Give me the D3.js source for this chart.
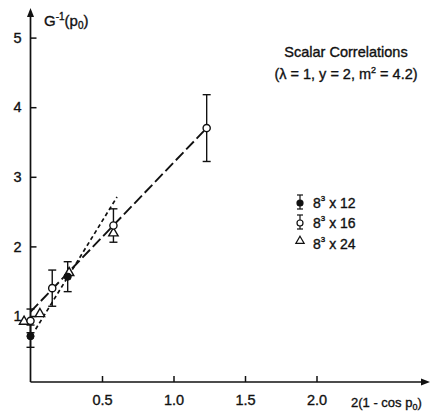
<!DOCTYPE html>
<html><head><meta charset="utf-8">
<script src="https://cdn.jsdelivr.net/npm/d3@7"></script>
<style>
body{margin:0;background:#fff;}
text{font-family:"Liberation Sans",Arial,sans-serif;fill:#111;stroke:#111;stroke-width:0.35px;}
</style></head>
<body><svg id="c" width="434" height="412"></svg>
<script>
// ---- data ----
const xTicks = [0.5, 1.0, 1.5, 2.0];
const xTickLabels = ["0.5", "1.0", "1.5", "2.0"];
const yTicks = [1, 2, 3, 4, 5];
const yTickLabels = ["1", "2", "3", "4", "5"];

// 8^3 x 12 (filled circles)
const s12x = [0.0, 0.26];
const s12y = [0.71, 1.565];
const s12e = [0.16, 0.215];
// 8^3 x 16 (open circles)
const s16x = [0.0, 0.152, 0.58, 1.232];
const s16y = [0.93, 1.40, 2.30, 3.70];
const s16e = [0.17, 0.26, 0.24, 0.48];
// 8^3 x 24 (triangles)
const s24x = [-0.045, 0.066, 0.27, 0.58];
const s24y = [0.92, 1.03, 1.62, 2.19];

// fit lines
const longFitX = [0.0, 1.232];
const longFitY = [1.06, 3.70];
const shortFitX = [0.036, 0.605];
const shortFitY = [0.81, 2.71];

const legendLabels = ["8", "8", "8"];
const legendSuffix = [" x 12", " x 16", " x 24"];

// ---- drawing ----
const svg = d3.select("#c");
const x = d3.scaleLinear().domain([0, 2.0]).range([30.5, 316.5]);
const y = d3.scaleLinear().domain([0, 5]).range([385.6, 37.6]);
const axisY = 382;
const ink = "#111";

// axes
const xa = svg.append("g").attr("transform", `translate(0,${axisY})`)
  .call(d3.axisBottom(x).tickValues(xTicks).tickFormat((d,i)=>xTickLabels[i]).tickSize(-6).tickPadding(13));
const ya = svg.append("g").attr("transform", `translate(${x(0)},0)`)
  .call(d3.axisLeft(y).tickValues(yTicks).tickFormat((d,i)=>yTickLabels[i]).tickSize(-6).tickPadding(9));
[xa, ya].forEach(g => {
  g.select(".domain").remove();
  g.selectAll("line").attr("stroke", ink).attr("stroke-width", 1.5);
  g.selectAll("text").style("font-size", "14.5px").style("font-family", '"Liberation Sans",Arial,sans-serif').attr("fill", ink);
});
// axis lines with arrows
svg.append("line").attr("x1", x(0)).attr("x2", 424).attr("y1", axisY).attr("y2", axisY).attr("stroke", ink).attr("stroke-width", 1.7);
svg.append("path").attr("d", `M430,${axisY} L421,${axisY-3.5} L421,${axisY+3.5} Z`).attr("fill", ink);
svg.append("line").attr("x1", x(0)).attr("x2", x(0)).attr("y1", axisY).attr("y2", 14).attr("stroke", ink).attr("stroke-width", 1.7);
svg.append("path").attr("d", `M${x(0)},8 L${x(0)-3.5},17 L${x(0)+3.5},17 Z`).attr("fill", ink);

// axis titles
const yl = svg.append("text").attr("x", 44).attr("y", 26).style("font-size", "15px");
yl.append("tspan").text("G");
yl.append("tspan").attr("dy", -6).style("font-size", "10px").text("-1");
yl.append("tspan").attr("dy", 6).text("(p");
yl.append("tspan").attr("dy", 3).style("font-size", "10px").text("0");
yl.append("tspan").attr("dy", -3).text(")");

const xl = svg.append("text").attr("x", 351).attr("y", 407).style("font-size", "13px");
xl.append("tspan").text("2(1 - cos p");
xl.append("tspan").attr("dy", 3).style("font-size", "9px").text("0");
xl.append("tspan").attr("dy", -3).text(")");

// title
svg.append("text").attr("x", 346).attr("y", 57).attr("text-anchor", "middle").style("font-size", "14.5px").text("Scalar Correlations");
const t2 = svg.append("text").attr("x", 346).attr("y", 79).attr("text-anchor", "middle").style("font-size", "14.5px");
t2.append("tspan").text("(λ = 1, y = 2, m");
t2.append("tspan").attr("dy", -6).style("font-size", "9px").text("2");
t2.append("tspan").attr("dy", 6).text(" = 4.2)");

// fit lines
const line = d3.line().x(d => x(d[0])).y(d => y(d[1]));
svg.append("path").attr("d", line(longFitX.map((v,i)=>[v, longFitY[i]])))
  .attr("fill", "none").attr("stroke", ink).attr("stroke-width", 1.9).attr("stroke-dasharray", "11,4");
svg.append("path").attr("d", line(shortFitX.map((v,i)=>[v, shortFitY[i]])))
  .attr("fill", "none").attr("stroke", ink).attr("stroke-width", 1.7).attr("stroke-dasharray", "4,3");

// error bars
function errBars(xs, ys, es) {
  xs.forEach((xv, i) => {
    const e = es[i];
    if (!e) return;
    const cx = x(xv), y1 = y(ys[i] + e), y2 = y(ys[i] - e);
    svg.append("line").attr("x1", cx).attr("x2", cx).attr("y1", y1).attr("y2", y2).attr("stroke", ink).attr("stroke-width", 1.4);
    [y1, y2].forEach(yy => svg.append("line").attr("x1", cx-4).attr("x2", cx+4).attr("y1", yy).attr("y2", yy).attr("stroke", ink).attr("stroke-width", 1.4));
  });
}
errBars(s12x, s12y, s12e);
errBars(s16x, s16y, s16e);

// markers
const tri = d3.symbol().type(d3.symbolTriangle).size(38);
s24x.forEach((xv, i) => {
  svg.append("path").attr("d", tri()).attr("transform", `translate(${x(xv)},${y(s24y[i])})`)
    .attr("fill", "#fff").attr("stroke", ink).attr("stroke-width", 1.4);
});
s16x.forEach((xv, i) => {
  svg.append("circle").attr("cx", x(xv)).attr("cy", y(s16y[i])).attr("r", 3.6)
    .attr("fill", "#fff").attr("stroke", ink).attr("stroke-width", 1.4);
});
s12x.forEach((xv, i) => {
  svg.append("circle").attr("cx", x(xv)).attr("cy", y(s12y[i])).attr("r", 3.6)
    .attr("fill", ink).attr("stroke", ink).attr("stroke-width", 1);
});

// legend
const lgX = 300, lgY = [202, 222, 243];
lgY.forEach((ly, i) => {
  if (i < 2) {
    svg.append("line").attr("x1", lgX).attr("x2", lgX).attr("y1", ly-7).attr("y2", ly+7).attr("stroke", ink).attr("stroke-width", 1.2);
    [ly-7, ly+7].forEach(yy => svg.append("line").attr("x1", lgX-3).attr("x2", lgX+3).attr("y1", yy).attr("y2", yy).attr("stroke", ink).attr("stroke-width", 1.2));
    svg.append("circle").attr("cx", lgX).attr("cy", ly+1).attr("r", 3).attr("fill", i === 0 ? ink : "#fff").attr("stroke", ink).attr("stroke-width", 1.2);
  } else {
    svg.append("path").attr("d", d3.symbol().type(d3.symbolTriangle).size(30)()).attr("transform", `translate(${lgX},${ly-2})`)
      .attr("fill", "#fff").attr("stroke", ink).attr("stroke-width", 1.2);
  }
  const t = svg.append("text").attr("x", 313).attr("y", ly + 6).style("font-size", "14px");
  t.append("tspan").text(legendLabels[i]);
  t.append("tspan").attr("dy", -7).style("font-size", "8px").text("3");
  t.append("tspan").attr("dy", 7).text(legendSuffix[i]);
});
</script></body></html>
